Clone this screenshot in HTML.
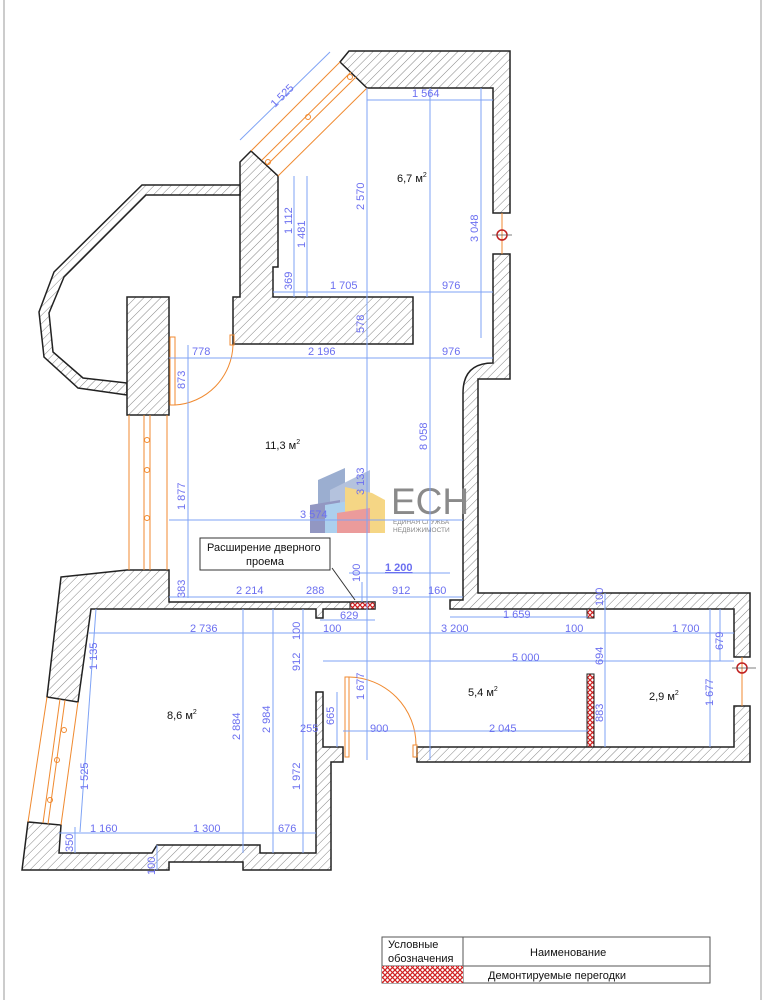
<!DOCTYPE html>
<html><head><meta charset="utf-8"><style>
html,body{margin:0;padding:0;background:#fff;}
svg{display:block;}
.d{stroke:#7fa3f5;stroke-width:1;fill:none;}
.t{font-family:"Liberation Sans",sans-serif;font-size:11px;fill:#6b6ff0;}
.a{font-family:"Liberation Sans",sans-serif;font-size:11px;fill:#111;}
.w{fill:url(#h);stroke:#222;stroke-width:1.5;}
.o{stroke:#f08a30;stroke-width:1;fill:none;}
</style></head><body>
<svg width="766" height="1000" viewBox="0 0 766 1000" xmlns="http://www.w3.org/2000/svg">
<defs>
<pattern id="h" width="6" height="6" patternUnits="userSpaceOnUse" patternTransform="rotate(45)">
<rect width="6" height="6" fill="#fff"/><line x1="0" y1="0" x2="0" y2="6" stroke="#777" stroke-width="0.9"/></pattern>
<pattern id="r" width="5" height="5" patternUnits="userSpaceOnUse">
<rect width="5" height="5" fill="#fff"/><path d="M0 0L5 5M5 0L0 5" stroke="#d02020" stroke-width="1.2"/></pattern>
</defs>
<line x1="4" y1="0" x2="4" y2="1000" stroke="#999"/>
<line x1="761" y1="0" x2="761" y2="1000" stroke="#999"/>

<!-- walls -->
<polygon class="w" points="340,62 349,51 510,51 510,213 493,213 493,88 367,88"/>
<path class="w" d="M493,254 L510,254 L510,379 L478,379 L478,593 L750,593 L750,657 L734,657 L734,609 L450,609 L450,600 L463,600 L463,393 Q463,363 493,363 Z"/>
<polygon class="w" points="417,747 734,747 734,706 750,706 750,762 417,762"/>
<polygon class="w" points="251,151 278,176 278,267 273,267 273,297 413,297 413,344 233,344 233,297 240,297 240,162"/>
<polygon class="w" points="240,185 142,185 54,272 39,312 44,357 78,388 127,395 127,383 83,378 53,352 49,313 64,277 146,195 240,195"/>
<rect class="w" x="127" y="297" width="42" height="118"/>
<polygon class="w" points="61,577 127,570 169,570 169,602 375,602 375,609 323,609 323,618 316,618 316,609 91,609 78,702 47,697"/>
<polygon class="w" points="316,692 323,692 323,747 343,747 343,762 331,762 331,870 243,870 243,862 169,862 169,870 22,870 28,822 61,825 59,853 152,853 157,845 260,845 260,853 316,853"/>
<!-- demolished -->
<rect x="350" y="602" width="25" height="7" fill="url(#r)" stroke="#222" stroke-width="1"/>
<rect x="587" y="609" width="7" height="9" fill="url(#r)" stroke="#222" stroke-width="1"/>
<rect x="587" y="674" width="7" height="73" fill="url(#r)" stroke="#222" stroke-width="1"/>

<!-- windows -->
<g class="o">
<line x1="251" y1="151" x2="340" y2="62"/><line x1="278" y1="176" x2="367" y2="88"/>
<line x1="262" y1="160" x2="351" y2="72"/><line x1="267" y1="165" x2="356" y2="77"/>
<line x1="129" y1="415" x2="129" y2="570"/><line x1="167" y1="415" x2="167" y2="570"/>
<line x1="144" y1="415" x2="144" y2="570"/><line x1="150" y1="415" x2="150" y2="570"/>
<line x1="47" y1="697" x2="28" y2="822"/><line x1="78" y1="702" x2="61" y2="825"/>
<line x1="60" y1="699" x2="43" y2="823"/><line x1="65" y1="700" x2="48" y2="824"/>
<line x1="502" y1="213" x2="502" y2="254"/>
<line x1="742" y1="657" x2="742" y2="706"/>
<!-- doors -->
<rect x="170" y="337" width="5" height="68"/>
<path d="M233,345 A62,62 0 0 1 175,405"/>
<rect x="230" y="335" width="4" height="10"/>
<rect x="345" y="677" width="4" height="80"/>
<path d="M349,677 A68,68 0 0 1 416,745"/>
<rect x="413" y="745" width="4" height="12"/>
<circle cx="147" cy="440" r="2.5"/><circle cx="147" cy="470" r="2.5"/><circle cx="147" cy="518" r="2.5"/>
<circle cx="57" cy="760" r="2.5"/><circle cx="50" cy="800" r="2.5"/><circle cx="64" cy="730" r="2.5"/>
<circle cx="308" cy="117" r="2.5"/><circle cx="350" cy="77" r="2.5"/><circle cx="268" cy="162" r="2.5"/>
</g>
<circle cx="502" cy="235" r="5" fill="none" stroke="#c02020" stroke-width="1.5"/>
<line x1="492" y1="235" x2="512" y2="235" stroke="#555" stroke-width="0.7"/>
<circle cx="742" cy="668" r="5" fill="none" stroke="#c02020" stroke-width="1.5"/>
<line x1="732" y1="668" x2="756" y2="668" stroke="#555" stroke-width="0.7"/>

<!-- logo -->
<g opacity="0.85">
<polygon points="318,480 345,468 345,533 318,533" fill="#8aa0c8"/>
<polygon points="330,490 370,470 370,533 330,533" fill="#a8b8d8"/>
<polygon points="310,505 340,500 340,533 310,533" fill="#7f86b8"/>
<polygon points="325,505 355,500 355,533 325,533" fill="#9ec8ec"/>
<polygon points="345,487 372,493 385,500 385,533 345,533" fill="#f4d070"/>
<polygon points="337,513 370,508 370,533 337,533" fill="#e88a8a"/>
</g>
<text x="391" y="514" font-family="Liberation Sans,sans-serif" font-size="37" fill="#8a8a8a">ЕСН</text>
<text x="393" y="524" font-family="Liberation Sans,sans-serif" font-size="6.5" fill="#888">ЕДИНАЯ СЛУЖБА</text>
<text x="393" y="532" font-family="Liberation Sans,sans-serif" font-size="6.5" fill="#888">НЕДВИЖИМОСТИ</text>

<!-- dimension lines -->
<g class="d">
<line x1="367" y1="100" x2="493" y2="100"/>
<line x1="273" y1="292" x2="493" y2="292"/>
<line x1="169" y1="358" x2="493" y2="358"/>
<line x1="169" y1="520" x2="463" y2="520"/>
<line x1="349" y1="573" x2="450" y2="573"/>
<line x1="169" y1="597" x2="463" y2="597"/>
<line x1="320" y1="620" x2="375" y2="620"/>
<line x1="450" y1="617" x2="588" y2="617"/>
<line x1="89" y1="633" x2="734" y2="633"/>
<line x1="323" y1="661" x2="734" y2="661"/>
<line x1="343" y1="731" x2="588" y2="731"/>
<line x1="59" y1="833" x2="316" y2="833"/>
<line x1="367" y1="88" x2="367" y2="760"/>
<line x1="430" y1="88" x2="430" y2="760"/>
<line x1="481" y1="88" x2="481" y2="338"/>
<line x1="294" y1="176" x2="294" y2="297"/>
<line x1="307" y1="176" x2="307" y2="297"/>
<line x1="188" y1="345" x2="188" y2="598"/>
<line x1="303" y1="609" x2="303" y2="853"/>
<line x1="243" y1="609" x2="243" y2="853"/>
<line x1="273" y1="609" x2="273" y2="853"/>
<line x1="337" y1="692" x2="337" y2="747"/>
<line x1="96" y1="609" x2="80" y2="832"/>
<line x1="75" y1="827" x2="75" y2="853"/>
<line x1="157" y1="845" x2="157" y2="870"/>
<line x1="605" y1="593" x2="605" y2="747"/>
<line x1="720" y1="609" x2="720" y2="661"/>
<line x1="710" y1="609" x2="710" y2="747"/>
<line x1="362" y1="582" x2="362" y2="602"/>
<line x1="240" y1="140" x2="330" y2="52"/>
<line x1="332" y1="568" x2="355" y2="600" stroke="#333"/>
</g>

<g class="t">
<text x="412" y="97">1 564</text>
<text x="330" y="289">1 705</text><text x="442" y="289">976</text>
<text x="192" y="355">778</text><text x="308" y="355">2 196</text><text x="442" y="355">976</text>
<text x="300" y="518">3 574</text>
<text x="385" y="571" font-weight="bold" text-decoration="underline">1 200</text>
<text x="236" y="594">2 214</text><text x="306" y="594">288</text><text x="392" y="594">912</text><text x="428" y="594">160</text>
<text x="340" y="619">629</text>
<text x="503" y="618">1 659</text>
<text x="190" y="632">2 736</text><text x="323" y="632">100</text><text x="441" y="632">3 200</text><text x="565" y="632">100</text><text x="672" y="632">1 700</text>
<text x="512" y="661">5 000</text>
<text x="300" y="732">255</text><text x="370" y="732">900</text><text x="489" y="732">2 045</text>
<text x="90" y="832">1 160</text><text x="193" y="832">1 300</text><text x="278" y="832">676</text>
<g transform="rotate(-90)">
<text x="-210" y="364">2 570</text>
<text x="-333" y="364">578</text>
<text x="-495" y="364">3 133</text>
<text x="-700" y="364">1 677</text>
<text x="-450" y="427">8 058</text>
<text x="-242" y="478">3 048</text>
<text x="-234" y="292">1 112</text>
<text x="-248" y="305">1 481</text>
<text x="-290" y="292">369</text>
<text x="-389" y="185">873</text>
<text x="-510" y="185">1 877</text>
<text x="-598" y="185">383</text>
<text x="-582" y="360">100</text>
<text x="-640" y="300">100</text>
<text x="-671" y="300">912</text>
<text x="-790" y="300">1 972</text>
<text x="-740" y="240">2 884</text>
<text x="-733" y="270">2 984</text>
<text x="-725" y="334">665</text>
<text x="-670" y="97">1 135</text>
<text x="-790" y="88">1 525</text>
<text x="-852" y="73">350</text>
<text x="-875" y="155">100</text>
<text x="-606" y="603">100</text>
<text x="-665" y="603">694</text>
<text x="-722" y="603">883</text>
<text x="-650" y="723">679</text>
<text x="-706" y="713">1 677</text>
</g>
<text transform="translate(275,108) rotate(-45)">1 525</text>
</g>

<g class="a">
<text x="397" y="182">6,7 м<tspan font-size="7" dy="-5">2</tspan></text>
<text x="265" y="449">11,3 м<tspan font-size="7" dy="-5">2</tspan></text>
<text x="167" y="719">8,6 м<tspan font-size="7" dy="-5">2</tspan></text>
<text x="468" y="696">5,4 м<tspan font-size="7" dy="-5">2</tspan></text>
<text x="649" y="700">2,9 м<tspan font-size="7" dy="-5">2</tspan></text>
</g>

<rect x="200" y="538" width="130" height="32" fill="#fff" stroke="#333"/>
<text x="207" y="551" class="a">Расширение дверного</text>
<text x="246" y="565" class="a">проема</text>

<!-- legend -->
<rect x="382" y="937" width="328" height="46" fill="#fff" stroke="#555"/>
<line x1="463" y1="937" x2="463" y2="983" stroke="#555"/>
<line x1="382" y1="966" x2="710" y2="966" stroke="#555"/>
<rect x="382" y="966" width="81" height="17" fill="url(#r)"/>
<text x="388" y="948" class="a">Условные</text>
<text x="388" y="962" class="a">обозначения</text>
<text x="530" y="956" class="a">Наименование</text>
<text x="488" y="979" class="a">Демонтируемые перегодки</text>
</svg>
</body></html>
